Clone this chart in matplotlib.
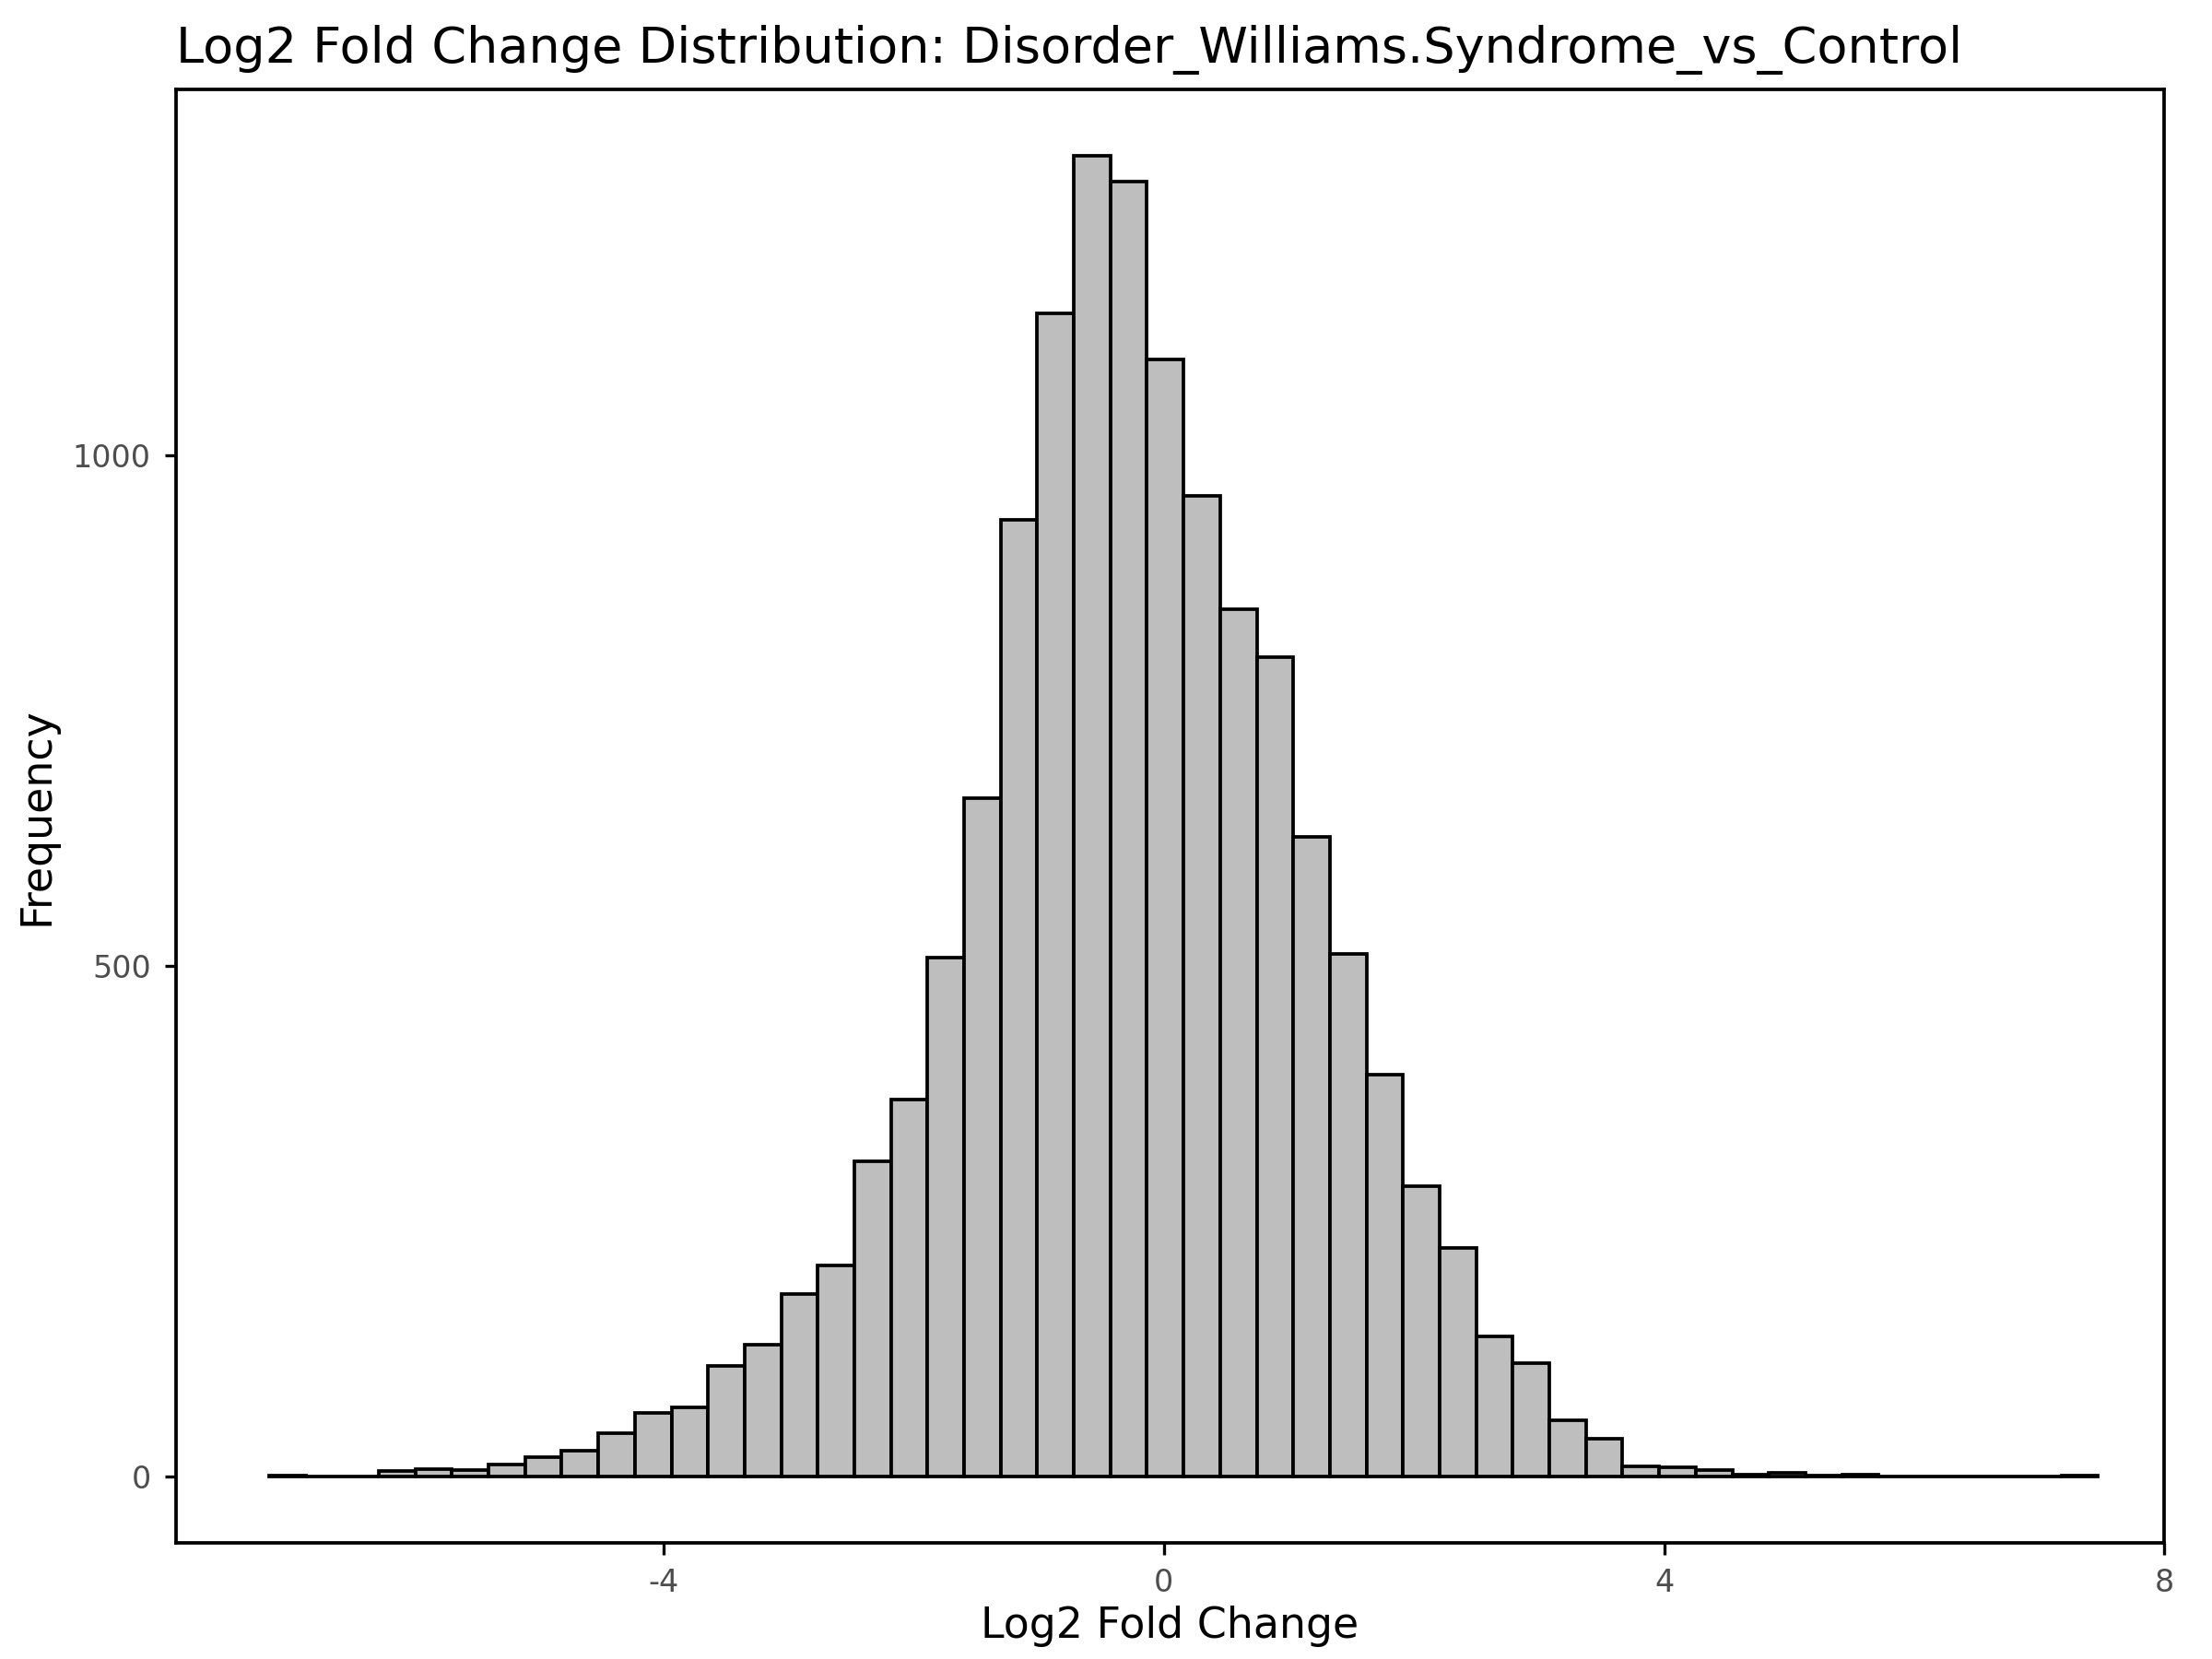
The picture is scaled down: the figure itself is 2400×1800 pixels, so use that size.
import matplotlib
matplotlib.use("Agg")
import matplotlib.pyplot as plt
import numpy as np

plt.rcParams["axes.unicode_minus"] = False

# histogram counts, 50 equal bins
bin_start = -7.155
bin_end = 7.47
counts = [1, 0, 0, 5, 7, 6, 12, 19, 25, 42,
          62, 68, 108, 129, 179, 207, 309, 369, 508, 664,
          937, 1139, 1293, 1268, 1094, 960, 849, 802, 626, 512,
          393, 284, 224, 137, 111, 55, 37, 10, 9, 6,
          2, 4, 1, 2, 0, 0, 0, 0, 0, 1]
xticks = [-4, 0, 4, 8]
yticks = [0, 500, 1000]

edges = np.linspace(bin_start, bin_end, len(counts) + 1)
widths = np.diff(edges)

fig = plt.figure(figsize=(8, 6), dpi=300)
ax = fig.add_axes([0.0795, 0.070, 0.899, 0.876])
ax.bar(edges[:-1], counts, width=widths, align="edge",
       color="#BEBEBE", edgecolor="black", linewidth=0.9)
ax.set_xlim(-7.9, 7.98)
ax.set_ylim(-65, 1358)
ax.set_xticks(xticks)
ax.set_yticks(yticks)
ax.tick_params(labelsize=8, labelcolor="#4D4D4D", color="black", length=3, width=0.8)
for s in ax.spines.values():
    s.set_linewidth(0.9)
ax.set_xlabel("Log2 Fold Change", fontsize=11, labelpad=2)
ax.set_ylabel("Frequency", fontsize=11, labelpad=4)
ax.set_title("Log2 Fold Change Distribution: Disorder_Williams.Syndrome_vs_Control",
             fontsize=13, loc="left", pad=7)
fig.savefig("out.png", dpi=300)
